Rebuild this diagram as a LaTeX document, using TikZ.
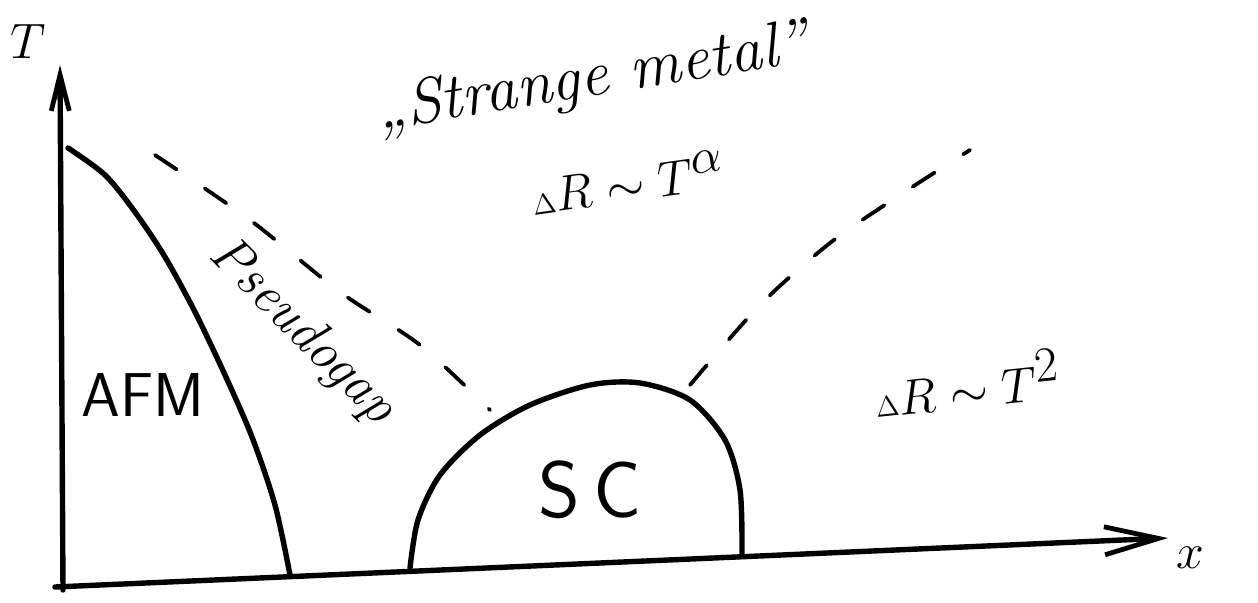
\documentclass[tikz,border=0pt]{standalone}
\usepackage{tikz}
\usetikzlibrary{arrows.meta,positioning}
\tikzset{
  axis/.style={line width=2.7pt,line cap=round},
  bnd/.style={line width=2.7pt,line cap=round,line join=round},
  xover/.style={line width=1.9pt,line cap=round,dash pattern=on 13pt off 17pt},
  lbl/.style={font=\fontsize{#1}{#1}\selectfont,inner sep=0pt},
  lbl/.default={36},
}
\begin{document}
\begin{tikzpicture}[x=0.5pt,y=-0.5pt]
 \useasboundingbox (0,0) rectangle (1258,603);
 % axes
 \coordinate (o) at (63,590);
 \coordinate (tend) at (60,65);
 \coordinate (xbeg) at (55,587);
 \coordinate (xend) at (1168,538);
 \draw[axis,-{Straight Barb[length=18pt,width=9pt,line width=2.4pt]}] (o)--(tend);
 \draw[axis,-{Straight Barb[length=27pt,width=14pt,line width=2.4pt]}] (xbeg)--(xend);
 \node[lbl=34] (tlab) at (28,42) {$T$};
 \node[lbl=40] (xlab) at (1190,558) {$x$};
 % phase boundaries
 \draw[bnd] plot[smooth] coordinates {(68,148) (105,175) (135,212) (165,257) (195,312) (225,375) (252,437) (275,505) (290,575)};
 \draw[bnd] plot[smooth] coordinates {(410,568) (418,520) (440,475) (480,435) (530,405) (590,385) (640,383) (690,400) (725,440) (740,490) (742,553)};
 % crossovers
 \draw[xover] plot[smooth] coordinates {(155,155) (250,220) (340,292) (420,345) (490,410)};
 \draw[xover] plot[smooth] coordinates {(690,385) (760,305) (830,243) (900,195) (970,150)};
 % regions
 \node[lbl,font=\sffamily\fontsize{31}{31}\selectfont] (afm) at (143,395) {AFM};
 \node[lbl,font=\sffamily\fontsize{40}{40}\selectfont] (sc) at (590,490) {S\,C};
 \node[lbl=27,rotate=-45] (pg) at (302,332) {\itshape Pseudogap};
 \node[lbl=32,rotate=9] (sm) at (592,80) {\itshape „Strange metal”};
 \node[lbl=41,rotate=8] (rsm) at (628,182) {{\fontsize{15}{15}\selectfont$\Delta$}$R\sim T^{\alpha}$};
 \node[lbl=41,rotate=6] (rfl) at (967,383) {{\fontsize{15}{15}\selectfont$\Delta$}$R\sim T^{2}$};
\end{tikzpicture}
\end{document}
